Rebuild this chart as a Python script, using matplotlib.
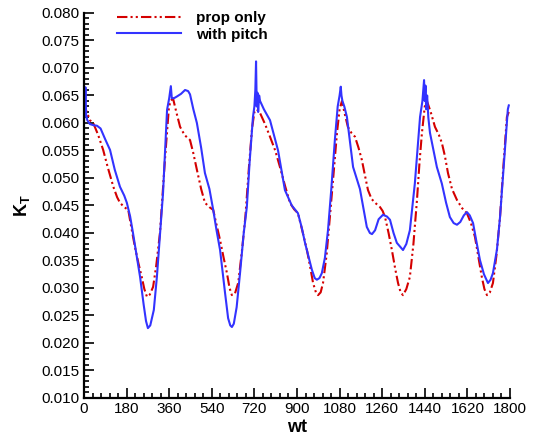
import matplotlib
matplotlib.use("Agg")
import matplotlib.pyplot as plt
from matplotlib.ticker import MultipleLocator, FormatStrFormatter

# with pitch (blue, solid)
pitch_x = [0, 3, 6, 9, 14, 25, 40, 55, 70, 90, 110, 130, 152, 170, 181, 195,
           207, 222, 237, 252, 262, 270, 280, 295, 308, 320, 334, 345, 351, 360,
           367, 371, 380, 392, 410, 427, 440, 448, 462, 477, 495, 511, 530, 546,
           560, 575, 596, 609, 618, 625, 633, 645, 660, 675, 688, 700, 714, 720,
           724, 727, 730, 733, 736, 740, 744, 760, 786, 820, 849, 878, 904, 920,
           934, 950, 963, 975, 984, 995, 1005, 1018, 1031, 1045, 1060, 1072, 1080,
           1085, 1088, 1092, 1100, 1111, 1137, 1166, 1195, 1208, 1217, 1230, 1245,
           1263, 1280, 1293, 1308, 1322, 1348, 1362, 1377, 1398, 1420, 1430, 1437,
           1440, 1443, 1446, 1450, 1455, 1462, 1491, 1512, 1530, 1546, 1562, 1576,
           1590, 1605, 1618, 1630, 1644, 1658, 1673, 1690, 1707, 1718, 1728, 1745,
           1758, 1775, 1791, 1795]
pitch_kt = [0.0605, 0.0620, 0.0665, 0.0615, 0.0605, 0.0598, 0.0596, 0.0595, 0.0590,
            0.0570, 0.0551, 0.0515, 0.0484, 0.0468, 0.0455, 0.0430, 0.0400, 0.0360,
            0.0320, 0.0270, 0.0240, 0.0227, 0.0232, 0.0260, 0.0320, 0.0390, 0.0473,
            0.0570, 0.0624, 0.0645, 0.0667, 0.0645, 0.0645, 0.0648, 0.0653, 0.0660,
            0.0658, 0.0652, 0.0625, 0.0600, 0.0555, 0.0509, 0.0480, 0.0442, 0.0405,
            0.0369, 0.0291, 0.0245, 0.0232, 0.0229, 0.0235, 0.0265, 0.0330, 0.0400,
            0.0447, 0.0530, 0.0611, 0.0630, 0.0660, 0.0712, 0.0630, 0.0655, 0.0620,
            0.0650, 0.0640, 0.0625, 0.0605, 0.0550, 0.0478, 0.0450, 0.0436, 0.0410,
            0.0382, 0.0355, 0.0333, 0.0318, 0.0315, 0.0318, 0.0327, 0.0355, 0.0405,
            0.0480, 0.0569, 0.0630, 0.0650, 0.0666, 0.0650, 0.0640, 0.0630, 0.0611,
            0.0520, 0.0480, 0.0411, 0.0400, 0.0398, 0.0405, 0.0425, 0.0433, 0.0430,
            0.0424, 0.0400, 0.0382, 0.0369, 0.0380, 0.0405, 0.0490, 0.0611, 0.0640,
            0.0678, 0.0640, 0.0668, 0.0625, 0.0650, 0.0610, 0.0582, 0.0520, 0.0490,
            0.0455, 0.0429, 0.0418, 0.0415, 0.0420, 0.0432, 0.0438, 0.0432, 0.0418,
            0.0385, 0.0351, 0.0325, 0.0309, 0.0315, 0.0327, 0.0370, 0.0429, 0.0530,
            0.0625, 0.0632]

# prop only (red, dash-dot-dot)
prop_x = [0, 6, 12, 25, 39, 60, 81, 100, 124, 140, 152, 170, 187, 200, 215, 230,
          244, 255, 266, 278, 292, 305, 321, 332, 342, 352, 359, 366, 376, 390, 406,
          425, 448, 462, 477, 495, 511, 530, 546, 560, 575, 590, 604, 615, 625, 638,
          652, 668, 682, 697, 710, 720, 730, 744, 765, 786, 808, 828, 850, 870, 888,
          904, 922, 942, 955, 968, 980, 989, 1000, 1010, 1025, 1039, 1055, 1069,
          1080, 1090, 1100, 1115, 1130, 1145, 1160, 1174, 1187, 1200, 1215, 1230,
          1251, 1262, 1272, 1287, 1301, 1315, 1327, 1338, 1348, 1362, 1377, 1392,
          1407, 1418, 1428, 1440, 1449, 1465, 1483, 1500, 1512, 1525, 1538, 1555,
          1576, 1598, 1618, 1635, 1652, 1667, 1681, 1692, 1703, 1715, 1728, 1743,
          1758, 1772, 1787, 1795]
prop_kt = [0.0612, 0.0625, 0.0620, 0.0605, 0.0600, 0.0578, 0.0551, 0.0520, 0.0484,
           0.0465, 0.0455, 0.0447, 0.0442, 0.0410, 0.0375, 0.0345, 0.0320, 0.0298,
           0.0284, 0.0288, 0.0302, 0.0340, 0.0400, 0.0470, 0.0533, 0.0590, 0.0629,
           0.0640, 0.0645, 0.0620, 0.0593, 0.0578, 0.0569, 0.0545, 0.0515, 0.0480,
           0.0455, 0.0447, 0.0442, 0.0415, 0.0387, 0.0355, 0.0327, 0.0300, 0.0287,
           0.0290, 0.0310, 0.0370, 0.0430, 0.0520, 0.0590, 0.0620, 0.0625, 0.0618,
           0.0598, 0.0575, 0.0550, 0.0520, 0.0485, 0.0455, 0.0443, 0.0436, 0.0405,
           0.0369, 0.0340, 0.0309, 0.0292, 0.0287, 0.0292, 0.0309, 0.0360, 0.0429,
           0.0510, 0.0582, 0.0625, 0.0640, 0.0620, 0.0593, 0.0582, 0.0575, 0.0555,
           0.0533, 0.0505, 0.0478, 0.0462, 0.0455, 0.0447, 0.0440, 0.0429, 0.0400,
           0.0369, 0.0335, 0.0309, 0.0292, 0.0287, 0.0298, 0.0320, 0.0380, 0.0460,
           0.0530, 0.0582, 0.0630, 0.0640, 0.0620, 0.0593, 0.0578, 0.0564, 0.0540,
           0.0509, 0.0480, 0.0460, 0.0445, 0.0436, 0.0418, 0.0393, 0.0355, 0.0320,
           0.0298, 0.0287, 0.0292, 0.0309, 0.0360, 0.0429, 0.0520, 0.0611, 0.0620]

plt.rcParams["font.family"] = ["Liberation Sans", "DejaVu Sans"]
plt.rcParams["mathtext.fontset"] = "custom"
plt.rcParams["mathtext.rm"] = "Liberation Sans:bold"

fig = plt.figure(figsize=(5.33, 4.36), dpi=100)
ax = fig.add_axes([0.1576, 0.0872, 0.7992, 0.8830])

ax.plot(prop_x, prop_kt, color="#d40000", lw=1.5,
        linestyle=(0, (5, 1.5, 1, 1.5, 1, 1.5)), label="prop only")
ax.plot(pitch_x, pitch_kt, color="#3333ff", lw=1.5, label="with pitch")

ax.set_xlim(0, 1800)
ax.set_ylim(0.010, 0.080)
ax.xaxis.set_major_locator(MultipleLocator(180))
ax.xaxis.set_minor_locator(MultipleLocator(36))
ax.yaxis.set_major_locator(MultipleLocator(0.005))
ax.yaxis.set_minor_locator(MultipleLocator(0.001))
ax.yaxis.set_major_formatter(FormatStrFormatter("%.3f"))

for side in ["top", "right"]:
    ax.spines[side].set_visible(False)
for side in ["left", "bottom"]:
    ax.spines[side].set_linewidth(1.6)

ax.tick_params(which="both", direction="in", labelsize=11, width=1.2, pad=3)
ax.tick_params(which="major", length=7)
ax.tick_params(which="minor", length=3.5)

ax.set_xlabel("wt", fontsize=13, fontweight="bold", labelpad=2)
ax.set_ylabel(r"K$_{\rm T}$", fontsize=13, fontweight="bold", labelpad=7)

ax.legend(loc="upper left", bbox_to_anchor=(0.045, 1.04), frameon=False,
          handlelength=4.2, labelspacing=0.15, handletextpad=1.0,
          prop={"weight": "bold", "size": 11})

fig.savefig("out.png", dpi=100)
